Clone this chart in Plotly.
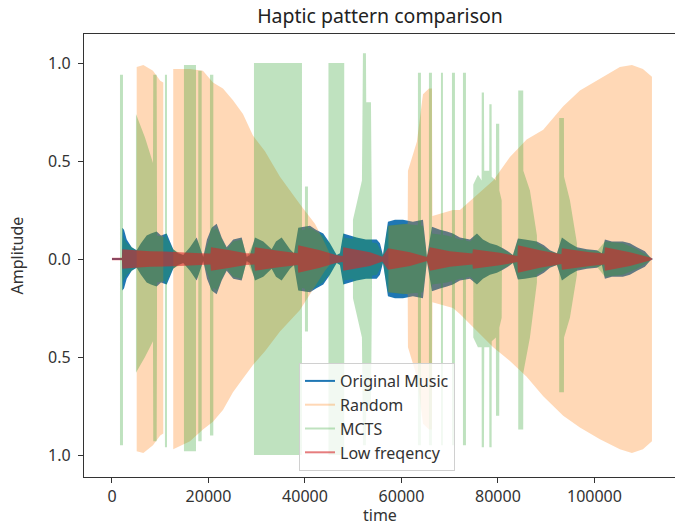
import plotly.graph_objects as go

# ---------------- data ----------------
# Original Music: envelope amplitude (symmetric)
music_t = [0, 2070, 2140, 2490, 3050, 4080, 5120, 6010, 7190, 8080, 9260, 10160, 11340, 12020, 12700,
           13680, 14780, 16170, 17550, 18240, 18920, 19690, 20660, 21700, 22740, 23770, 25140, 26880,
           27920, 28600, 29640, 31360, 33100, 33990, 35170, 36890, 37720, 38610, 41040, 42280, 43790,
           45180, 46570, 47250, 47940, 49330, 50710, 52640, 54860, 55540, 56170, 57200, 58650, 60310,
           62380, 64460, 65080, 65280, 66320, 67980, 69430, 70670, 72120, 74200, 75650, 76890, 78340,
           79790, 81030, 82070, 83110, 84140, 85590, 88080, 89530, 90780, 92230, 93260, 94920, 96370,
           98440, 100520, 101550, 102170, 103630, 105900, 107360, 108810, 110460, 111500, 112120]
music_amp = [0.005, 0.005, 0.16, 0.15, 0.10, 0.06, 0.045, 0.08, 0.12, 0.13, 0.14, 0.12, 0.13, 0.09, 0.05,
             0.03, 0.02, 0.06, 0.11, 0.06, 0.01, 0.10, 0.16, 0.18, 0.11, 0.06, 0.10, 0.11,
             0.01, 0.02, 0.11, 0.09, 0.05, 0.09, 0.11, 0.05, 0.03, 0.16, 0.17, 0.15, 0.13,
             0.08, 0.02, 0.03, 0.13, 0.12, 0.11, 0.10, 0.10, 0.08, 0.02, 0.19, 0.20, 0.20,
             0.19, 0.20, 0.06, 0.01, 0.165, 0.15, 0.14, 0.13, 0.11, 0.10, 0.13, 0.10, 0.08,
             0.07, 0.055, 0.04, 0.02, 0.105, 0.10, 0.09, 0.07, 0.045, 0.03, 0.11, 0.08, 0.06,
             0.05, 0.045, 0.03, 0.10, 0.09, 0.09, 0.08, 0.06, 0.04, 0.01, 0.0]

# Random: upper / lower envelope, None separates bursts
rnd_t = [5120, 6500, 8500, 10000, 10630, None,
         12700, 16170, 18860, 20930, 23000, 25080, 27150, 29220, 31710, 34820, 38960, 42070, 44140, 45110, None,
         57300, 61300, 61350, 63210, 64460, 65700, 66320, 66420, 70670, 72120, 79020, 82490, 85950, 89390,
         93530, 96990, 101140, 105280, 107770, 110050, 111920]
rnd_hi = [0.98, 0.99, 0.96, 0.91, 0.90, None,
          0.97, 0.97, 0.96, 0.90, 0.87, 0.81, 0.74, 0.63, 0.55, 0.42, 0.28, 0.18, 0.08, 0.03, None,
          0.17, 0.18, 0.45, 0.60, 0.84, 0.87, 0.87, 0.22, 0.25, 0.25, 0.40, 0.52, 0.61, 0.66,
          0.78, 0.86, 0.92, 0.98, 0.99, 0.97, 0.93]
rnd_lo = [-0.98, -0.99, -0.95, -0.90, -0.89, None,
          -0.97, -0.93, -0.87, -0.83, -0.77, -0.68, -0.61, -0.54, -0.47, -0.37, -0.26, -0.14, -0.06, -0.03, None,
          -0.17, -0.18, -0.45, -0.60, -0.84, -0.87, -0.87, -0.22, -0.25, -0.28, -0.45, -0.52, -0.60, -0.70,
          -0.80, -0.86, -0.92, -0.97, -0.99, -0.97, -0.93]

# MCTS: bursts / spikes (upper / lower envelope), None separates bursts
mcts_t = [1660, 2280, None,
          4970, 6840, 8500, 8560, 9260, 9330, None,
          10980, 11400, None,
          14920, 17410, None,
          17890, 18590, None,
          20310, 21000, None,
          29430, 39380, None,
          40000, 40620, None,
          44870, 48140, None,
          49950, 51810, 52020, 52640, 52700, 53680, 53890, None,
          63420, 64040, None,
          65700, 66320, None,
          68190, 68600, None,
          70470, 71090, None,
          72750, 73370, None,
          74890, 75850, 76620, 76640, 77100, 77160, 78200, 78220, 78690, 78710, 79580, 79600, 80270, 80290,
          80770, 80830, None,
          84210, 85240, 85260, 86630, 88080, None,
          92700, 93680, 93700, 94920, 96370]
mcts_hi = [0.94, 0.94, None,
           0.74, 0.62, 0.49, 0.94, 0.94, 0.30, None,
           0.94, 0.94, None,
           0.99, 0.99, None,
           0.96, 0.96, None,
           0.94, 0.94, None,
           1.0, 1.0, None,
           0.37, 0.37, None,
           1.0, 1.0, None,
           0.20, 0.40, 1.05, 1.05, 0.80, 0.80, 0.15, None,
           0.95, 0.95, None,
           0.95, 0.95, None,
           0.95, 0.95, None,
           0.95, 0.95, None,
           0.95, 0.95, None,
           0.38, 0.43, 0.40, 0.85, 0.85, 0.45, 0.45, 0.79, 0.79, 0.42, 0.40, 0.69, 0.69, 0.35,
           0.30, 0.05, None,
           0.86, 0.86, 0.45, 0.35, 0.12, None,
           0.72, 0.72, 0.42, 0.30, 0.08]
mcts_lo = [-0.95, -0.95, None,
           -0.58, -0.50, -0.42, -0.93, -0.93, -0.30, None,
           -0.96, -0.96, None,
           -0.98, -0.98, None,
           -0.93, -0.93, None,
           -0.90, -0.90, None,
           -1.0, -1.0, None,
           -0.37, -0.37, None,
           -1.0, -1.0, None,
           -0.20, -0.40, -0.95, -0.95, -0.75, -0.75, -0.15, None,
           -0.95, -0.95, None,
           -0.95, -0.95, None,
           -0.95, -0.95, None,
           -0.95, -0.95, None,
           -0.95, -0.95, None,
           -0.40, -0.45, -0.45, -0.96, -0.96, -0.45, -0.45, -0.96, -0.96, -0.42, -0.40, -0.80, -0.80, -0.35,
           -0.30, -0.05, None,
           -0.87, -0.87, -0.58, -0.40, -0.12, None,
           -0.68, -0.68, -0.40, -0.30, -0.08]
# MCTS: low-level body following the music (symmetric)
mcts_core_t = [2140, 3110, 5180, 7250, 9330, 11400, 12640, 14710, 16170, 17620, 18860, 20730, 21760, 22800,
               23830, 25080, 26940, 27980, 29640, 31290, 33160, 35230, 36890, 38550, 41040, 43730, 46630,
               47880, 50780, 54920, 56170, 57200, 60310, 64460, 65280, 66320, 69430, 72120, 74200, 75650,
               78340, 81030, 83110, 84140, 88080, 90780, 92230, 93260, 96370, 100520, 102170, 105900,
               108810, 111500]
mcts_core_amp = [0.12, 0.08, 0.04, 0.11, 0.12, 0.11, 0.05, 0.02, 0.05, 0.10, 0.01, 0.14, 0.16, 0.10,
                 0.05, 0.09, 0.10, 0.01, 0.10, 0.08, 0.04, 0.10, 0.04, 0.14, 0.16, 0.12, 0.02,
                 0.11, 0.10, 0.08, 0.02, 0.17, 0.18, 0.17, 0.01, 0.13, 0.12, 0.10, 0.09, 0.12,
                 0.07, 0.05, 0.02, 0.10, 0.08, 0.04, 0.03, 0.10, 0.05, 0.04, 0.09, 0.08,
                 0.05, 0.01]

# Low frequency: envelope amplitude (symmetric)
low_t = [0, 2070, 2140, 4770, 7880, 10980, 14090, 18240, 20410, 20520, 24460, 27770, 29530, 29640, 33780,
         38510, 38610, 43110, 46420, 47830, 47940, 53470, 56060, 57200, 61760, 65280, 65900, 70050, 74710,
         74820, 80410, 84040, 84140, 88700, 93160, 93260, 99070, 102070, 102170, 107360, 111500, 112120]
low_amp = [0.006, 0.006, 0.05, 0.045, 0.04, 0.038, 0.035, 0.03, 0.028, 0.06, 0.045, 0.03, 0.028, 0.06, 0.045,
           0.03, 0.07, 0.045, 0.02, 0.015, 0.06, 0.035, 0.012, 0.055, 0.035, 0.01, 0.06, 0.04, 0.028,
           0.05, 0.032, 0.015, 0.07, 0.045, 0.025, 0.055, 0.035, 0.028, 0.06, 0.035, 0.008, 0.0]

series_names = ["Original Music", "Random", "MCTS", "Low freqency"]
x_ticks = [0, 20000, 40000, 60000, 80000, 100000]
y_ticks = [-1.0, -0.5, 0.0, 0.5, 1.0]
y_tick_text = ["1.0", "0.5", "0.0", "0.5", "1.0"]

# ---------------- helpers ----------------
def segments(t, hi, lo):
    segs, cur = [], []
    for a, b, c in zip(t, hi, lo):
        if a is None:
            if cur:
                segs.append(cur)
            cur = []
        else:
            cur.append((a, b, c))
    if cur:
        segs.append(cur)
    return segs


def polygon(segs):
    xs, ys = [], []
    for seg in segs:
        ts = [p[0] for p in seg]
        his = [p[1] for p in seg]
        los = [p[2] for p in seg]
        xs += ts + ts[::-1] + [ts[0], None]
        ys += his + los[::-1] + [his[0], None]
    return xs, ys


def sym(t, amp):
    return segments(t, amp, [-a for a in amp])


COLORS = {
    "Original Music": "rgba(31,119,180,1)",
    "Random": "rgba(255,127,14,0.3)",
    "MCTS": "rgba(44,160,44,0.3)",
    "Low freqency": "rgba(214,39,40,0.6)",
}

shapes_by_series = {
    "Original Music": sym(music_t, music_amp),
    "Random": segments(rnd_t, rnd_hi, rnd_lo),
    "MCTS": segments(mcts_t, mcts_hi, mcts_lo) + sym(mcts_core_t, mcts_core_amp),
    "Low freqency": sym(low_t, low_amp),
}

fig = go.Figure()
for name in series_names:
    xs, ys = polygon(shapes_by_series[name])
    fig.add_trace(go.Scatter(x=xs, y=ys, mode="none", fill="toself",
                             fillcolor=COLORS[name], hoverinfo="skip",
                             showlegend=False, name=name))
for name in series_names:
    fig.add_trace(go.Scatter(x=[None], y=[None], mode="lines",
                             line=dict(color=COLORS[name], width=2), name=name))

FONT = "Noto Sans"
fig.update_layout(
    width=675, height=526,
    margin=dict(l=84, r=0, t=34, b=49, autoexpand=False),
    paper_bgcolor="white", plot_bgcolor="white",
    font=dict(family=FONT, size=16, color="#333333"),
    title=dict(text="Haptic pattern comparison", x=(380 - 84) / 591, xref="paper", xanchor="center",
               y=1 - 16 / 526, yref="container", yanchor="middle",
               font=dict(family=FONT, size=19.5, color="#222222")),
    xaxis=dict(range=[-5800, 116700], tickvals=x_ticks, tickformat="d", automargin=False,
               showgrid=False, zeroline=False, showline=True, linecolor="#333333", linewidth=1.2,
               mirror=True, ticks="outside", ticklen=5, tickcolor="#333333"),
    yaxis=dict(range=[-1.112, 1.148], tickvals=y_ticks, ticktext=y_tick_text, automargin=False,
               showgrid=False, zeroline=False, showline=True, linecolor="#333333", linewidth=1.2,
               ticks="outside", ticklen=5, tickcolor="#333333", ticklabelstandoff=4),
    legend=dict(x=(299 - 84) / 591, y=(477 - 363) / 443, xanchor="left", yanchor="top",
                bgcolor="rgba(255,255,255,0.8)", bordercolor="#d0d0d0", borderwidth=1,
                font=dict(family=FONT, size=16, color="#333333"), traceorder="normal"),
    showlegend=True,
    annotations=[
        dict(text="time", xref="paper", yref="paper", x=(380 - 84) / 591, y=0,
             yshift=-38, xanchor="center", yanchor="middle", showarrow=False,
             font=dict(family=FONT, size=16, color="#333333")),
        dict(text="Amplitude", xref="paper", yref="paper", x=0, y=0.5,
             xshift=-68, xanchor="center", yanchor="middle", textangle=-90, showarrow=False,
             font=dict(family=FONT, size=16, color="#333333")),
    ],
)

fig.write_html(
    "out.html",
    config={"displayModeBar": False},
    post_script="document.body.style.margin='0';document.body.style.overflow='hidden';",
)
